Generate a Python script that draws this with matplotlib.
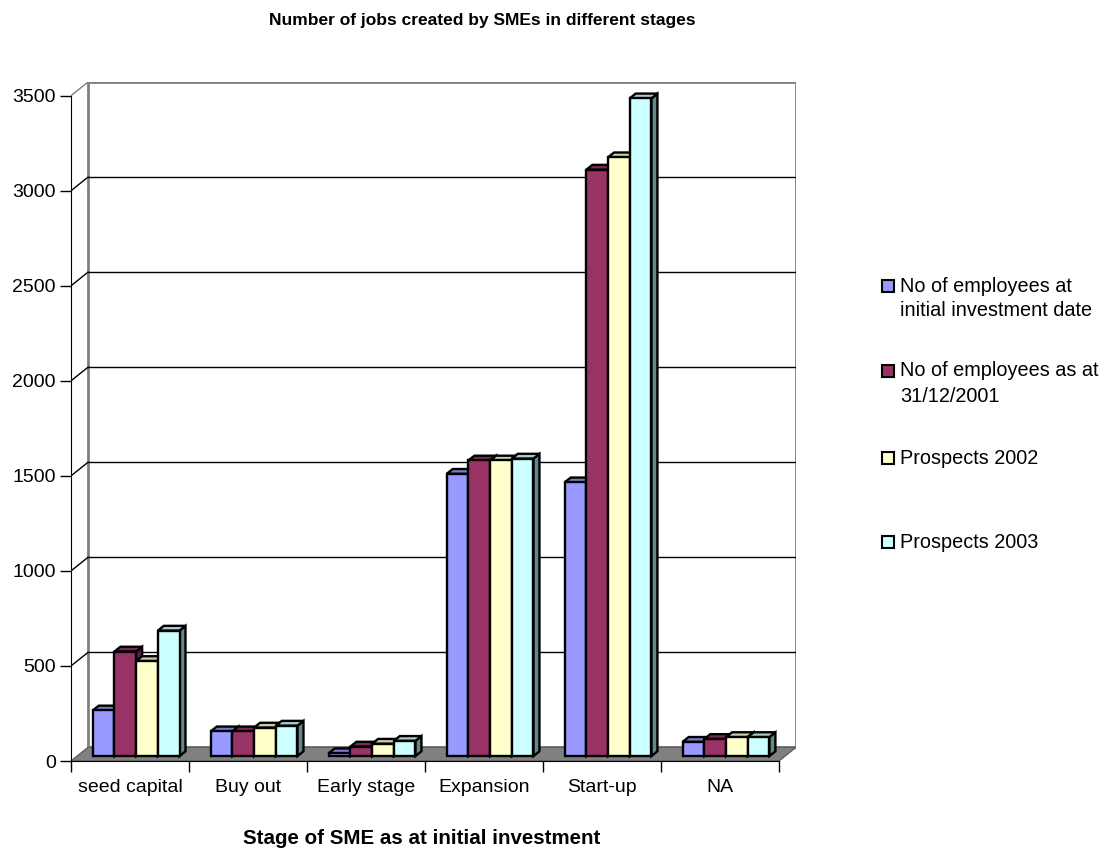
import matplotlib.pyplot as plt
from matplotlib.patches import Polygon, Rectangle

plt.rcParams['font.family'] = ['Liberation Sans', 'DejaVu Sans']

categories = ["seed capital", "Buy out", "Early stage", "Expansion", "Start-up", "NA"]
series_names = ["No of employees at\ninitial investment date",
                "No of employees as at\n31/12/2001",
                "Prospects 2002",
                "Prospects 2003"]
emp_initial = [240, 130, 15, 1485, 1440, 75]
emp_2001 = [550, 130, 50, 1555, 3085, 90]
prospects_2002 = [500, 150, 65, 1555, 3150, 100]
prospects_2003 = [660, 160, 80, 1565, 3460, 100]
series = [emp_initial, emp_2001, prospects_2002, prospects_2003]

front_colors = ["#9999FF", "#993366", "#FFFFCC", "#CCFFFF"]
top_colors = ["#7A7ACC", "#7A2952", "#CCCCA3", "#A3CCCC"]
side_colors = ["#5C5C99", "#5C1F3D", "#99997A", "#628888"]

yticks = list(range(0, 3501, 500))
ymax = 3500

# oblique depth offset (x in category units, y in value units)
DX = 0.145
DY = 72
# bar depth range as fraction of the floor depth
D0, D1 = 0.36, 0.71
group_frac = 0.735

W, H = 1102, 856
fig = plt.figure(figsize=(W / 100, H / 100), dpi=100)
ax = fig.add_axes([71 / W, (H - 761) / H, (796 - 71) / W, (761 - 82) / H])
n = len(categories)
ax.set_xlim(0, n + DX)
ax.set_ylim(0, ymax + DY)

# back wall, floor and gridlines
ax.add_patch(Polygon([(DX, DY), (n + DX, DY), (n + DX, ymax + DY), (DX, ymax + DY)],
                     closed=True, facecolor="white", edgecolor="#808080", lw=2, zorder=1))
ax.add_patch(Polygon([(0, 0), (n, 0), (n + DX, DY), (DX, DY)],
                     closed=True, facecolor="#808080", edgecolor="#606060", lw=1, zorder=2))
for v in yticks[1:-1]:
    ax.plot([DX, n + DX], [v + DY, v + DY], color="black", lw=1, zorder=1.5)
for v in yticks[1:]:
    c = "#808080" if v == ymax else "black"
    ax.plot([0, DX], [v, v + DY], color=c, lw=1, zorder=1.5)

# 3d bars, painted left to right
bw = group_frac / len(series)
for i in range(n):
    for j, vals in enumerate(series):
        v = vals[i]
        x0 = i + (1 - group_frac) / 2 + j * bw + D0 * DX
        x1 = x0 + bw
        y0 = D0 * DY
        y1 = v + D0 * DY
        ddx = (D1 - D0) * DX
        ddy = (D1 - D0) * DY
        side = [(x1, y0), (x1 + ddx, y0 + ddy), (x1 + ddx, y1 + ddy), (x1, y1)]
        top = [(x0, y1), (x1, y1), (x1 + ddx, y1 + ddy), (x0 + ddx, y1 + ddy)]
        front = [(x0, y0), (x1, y0), (x1, y1), (x0, y1)]
        for pts, col in ((side, side_colors[j]), (top, top_colors[j]), (front, front_colors[j])):
            ax.add_patch(Polygon(pts, closed=True, facecolor=col, edgecolor="black",
                                 lw=1.7, joinstyle="miter", zorder=3))

# axes lines and ticks
for s in ("top", "right"):
    ax.spines[s].set_visible(False)
ax.spines["left"].set_bounds(0, ymax)
ax.spines["bottom"].set_bounds(0, n)
ax.spines["left"].set_color("black")
ax.spines["bottom"].set_color("black")
ax.spines["bottom"].set_zorder(4)
ax.set_yticks(yticks)
ax.set_yticklabels([str(t) for t in yticks], fontsize=14)
ax.tick_params(axis="y", direction="out", length=8, width=1, pad=3)
ax.set_xticks(range(n + 1))
ax.set_xticklabels([""] * (n + 1))
ax.set_xticks([i + 0.5 for i in range(n)], minor=True)
ax.set_xticklabels(categories, minor=True, fontsize=14)
ax.tick_params(axis="x", which="major", direction="out", length=8, width=1)
ax.tick_params(axis="x", which="minor", length=0, pad=13)

fig.text(482 / W, 1 - 21 / H, "Number of jobs created by SMEs in different stages",
         ha="center", va="center", fontsize=12.5, fontweight="bold")
fig.text(422 / W, 1 - 839 / H, "Stage of SME as at initial investment",
         ha="center", va="center", fontsize=14.8, fontweight="bold")

# legend
entry_y = [286, 371, 458, 542]
for j, name in enumerate(series_names):
    yc = entry_y[j]
    fig.add_artist(Rectangle((882 / W, 1 - (yc + 6) / H), 12 / W, 12 / H,
                             transform=fig.transFigure, facecolor=front_colors[j],
                             edgecolor="black", lw=1.5))
    for k, line in enumerate(name.split("\n")):
        fig.text(900 / W, 1 - (yc + k * 25) / H, line, ha="left", va="center", fontsize=14.3)

fig.savefig("out.png", dpi=100)
